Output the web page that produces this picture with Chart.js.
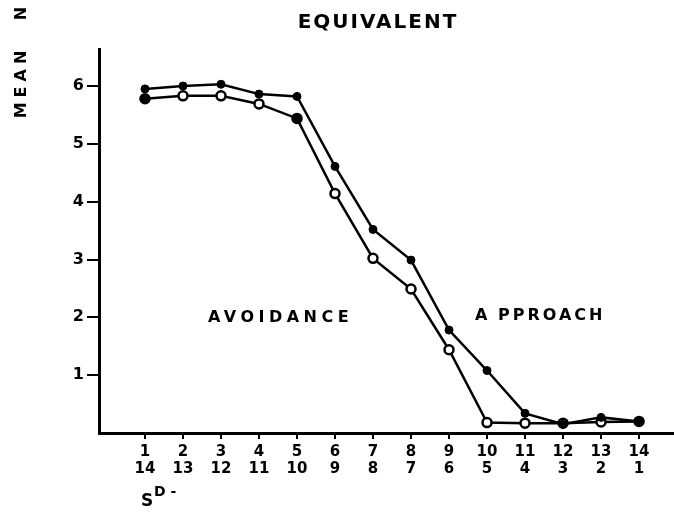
<!DOCTYPE html>
<html>
<head>
<meta charset="utf-8">
<script src="https://cdn.jsdelivr.net/npm/chart.js@4/dist/chart.umd.min.js"></script>
<style>
  html, body { margin: 0; padding: 0; background: #fff; }
  #wrap { width: 674px; height: 512px; }
</style>
</head>
<body>
<div id="wrap"><canvas id="myChart" width="674" height="512"></canvas></div>
<script>
// data
var sPlus = [1, 2, 3, 4, 5, 6, 7, 8, 9, 10, 11, 12, 13, 14];
var sMinus = [14, 13, 12, 11, 10, 9, 8, 7, 6, 5, 4, 3, 2, 1];
var filledMeans = [5.95, 6.0, 6.03, 5.86, 5.82, 4.61, 3.52, 2.99, 1.78, 1.08, 0.34, 0.15, 0.27, 0.2];
var openMeans = [5.78, 5.83, 5.83, 5.69, 5.44, 4.14, 3.02, 2.49, 1.44, 0.18, 0.17, 0.17, 0.19, 0.2];
var yTicks = [1, 2, 3, 4, 5, 6];

var FONT = "'DejaVu Sans', sans-serif";

function toPoints(vals) {
  return vals.map(function (v, i) { return { x: sPlus[i], y: v }; });
}

// the scan shows a couple of the open circles filled in
var openFill = openMeans.map(function (v, i) {
  return (i == 0 || i == 4) ? "#000" : "#fff";
});

// text labels drawn straight on the canvas
var labelsPlugin = {
  id: "labels",
  afterDraw: function (chart) {
    var c = chart.ctx;
    c.save();
    c.fillStyle = "#000";
    c.textBaseline = "middle";

    c.font = "bold 20px " + FONT;
    c.letterSpacing = "2px";
    c.textAlign = "center";
    c.fillText("EQUIVALENT", 378, 23);

    c.font = "bold 16px " + FONT;
    c.letterSpacing = "4.5px";
    c.textAlign = "left";
    c.fillText("AVOIDANCE", 208, 318);
    c.letterSpacing = "3px";
    c.fillText("A", 475, 316);
    c.fillText("PPROACH", 498, 316);

    // rotated y label
    c.save();
    c.translate(22, 82);
    c.rotate(-Math.PI / 2);
    c.textAlign = "center";
    c.letterSpacing = "5px";
    c.fillText("MEAN", 0, 0);
    c.restore();
    c.save();
    c.translate(22, 12);
    c.rotate(-Math.PI / 2);
    c.textAlign = "center";
    c.fillText("N", 0, 0);
    c.restore();

    c.letterSpacing = "0px";
    c.textAlign = "left";
    c.font = "bold 17px " + FONT;
    c.fillText("S", 141, 502);
    c.font = "bold 14px " + FONT;
    c.fillText("D -", 154, 492);
    c.restore();
  }
};

var ctx = document.getElementById("myChart").getContext("2d");
var myChart = new Chart(ctx, {
  type: "line",
  data: {
    datasets: [
      {
        label: "filled",
        data: toPoints(filledMeans),
        borderColor: "#000",
        borderWidth: 2.5,
        pointRadius: 4,
        pointBackgroundColor: "#000",
        pointBorderColor: "#000",
        pointBorderWidth: 1,
        tension: 0,
      },
      {
        label: "open",
        data: toPoints(openMeans),
        borderColor: "#000",
        borderWidth: 2.5,
        pointRadius: 4.5,
        pointBackgroundColor: openFill,
        pointBorderColor: "#000",
        pointBorderWidth: 2.5,
        tension: 0,
      },
    ],
  },
  options: {
    responsive: false,
    animation: false,
    layout: { autoPadding: false, padding: { top: 49, left: 0, right: 0, bottom: 0 } },
    plugins: {
      legend: { display: false },
      title: { display: false },
      tooltip: { enabled: false },
    },
    scales: {
      x: {
        type: "linear",
        min: -0.21,
        max: 14.92,
        afterBuildTicks: function (scale) {
          scale.ticks = sPlus.map(function (v) { return { value: v }; });
        },
        afterFit: function (scale) {
          scale.height = 79;
          scale.paddingLeft = 0;
          scale.paddingRight = 0;
        },
        border: { display: true, color: "#000", width: 3 },
        grid: { drawOnChartArea: false, drawTicks: true, tickLength: 6, color: "#000", lineWidth: 2 },
        ticks: {
          color: "#000",
          padding: 5,
          maxRotation: 0,
          autoSkip: false,
          font: { family: FONT, weight: "bold", size: 15, lineHeight: 1.1 },
          callback: function (value, i) {
            return [String(sPlus[i]), String(sMinus[i])];
          },
        },
      },
      y: {
        min: 0,
        max: 6.64,
        afterBuildTicks: function (scale) {
          scale.ticks = yTicks.map(function (v) { return { value: v }; });
        },
        afterFit: function (scale) {
          scale.width = 99;
          scale.paddingTop = 0;
          scale.paddingBottom = 0;
        },
        border: { display: true, color: "#000", width: 3 },
        grid: { drawOnChartArea: false, drawTicks: true, tickLength: 12, color: "#000", lineWidth: 2 },
        ticks: {
          color: "#000",
          padding: 3,
          font: { family: FONT, weight: "bold", size: 16 },
        },
      },
    },
  },
  plugins: [labelsPlugin],
});
</script>
</body>
</html>
